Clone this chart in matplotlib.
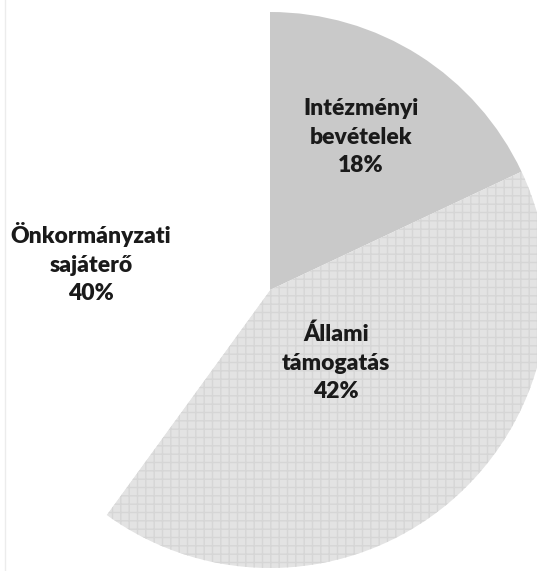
import numpy as np
import matplotlib
matplotlib.use('Agg')
import matplotlib.pyplot as plt

categories = ['Intézményi\nbevételek', 'Állami\ntámogatás', 'Önkormányzati\nsajáterő']
shares = [18, 42, 40]
colors = ['#c9c9c9', '#e3e3e3', '#ffffff']
hatches = [None, '++', None]

# label spots in pixel coords (x, y from top)
label_pos = [(361, 137), (336, 363), (91, 263)]

W, H = 537, 571
fig = plt.figure(figsize=(W / 100, H / 100), dpi=100)
ax = fig.add_axes([0, 0, 1, 1])

wedges, _ = ax.pie(shares, colors=colors, startangle=90, counterclock=False,
                   center=(270, H - 290), radius=278, frame=True,
                   wedgeprops=dict(linewidth=0))
for w, h in zip(wedges, hatches):
    if h:
        w.set_hatch(h)
        w.set_edgecolor('#d6d6d6')
        w.set_linewidth(0)
ax.set_xlim(0, W)
ax.set_ylim(0, H)
ax.set_aspect('equal')
ax.axis('off')

for name, val, (x, y) in zip(categories, shares, label_pos):
    ax.text(x, H - y, '%s\n%d%%' % (name, val), ha='center', va='center',
            fontsize=16.5, fontweight='heavy', family=['Lato', 'DejaVu Sans'],
            color='#1a1a1a', linespacing=1.45)

# faint scan line at the left edge
ax.plot([5, 5], [0, H], color='#ececec', linewidth=1)

fig.savefig('out.png', dpi=100)
